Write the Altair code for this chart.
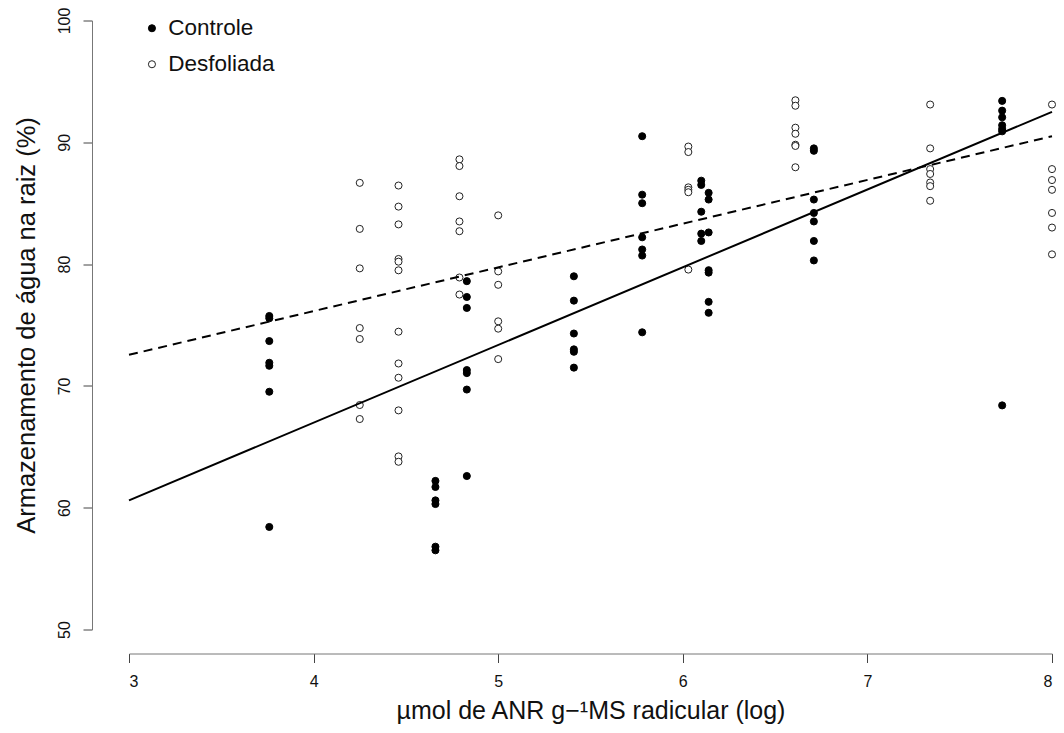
import altair as alt
import pandas as pd

# ---- data ----
groups = ["Controle", "Desfoliada"]

ctrl_x = ([3.76] * 7 + [4.66] * 6 + [4.83] * 7 + [5.41] * 6 + [5.78] * 7
          + [6.10] * 5 + [6.14] * 7 + [6.71] * 7 + [7.73] * 7)
ctrl_y = [75.74, 75.55, 73.68, 71.90, 71.65, 69.52, 58.42,
          62.2, 61.7, 60.6, 60.3, 56.8, 56.5,
          78.6, 77.3, 76.4, 71.3, 71.05, 69.7, 62.6,
          79.0, 77.0, 74.3, 73.0, 72.8, 71.5,
          90.5, 85.7, 85.0, 82.2, 81.2, 80.7, 74.4,
          86.85, 86.5, 84.3, 82.5, 81.9,
          85.85, 85.3, 82.6, 79.5, 79.3, 76.9, 76.0,
          89.5, 89.3, 85.3, 84.2, 83.5, 81.9, 80.3,
          93.4, 92.6, 92.05, 91.4, 91.1, 90.9, 68.4]

desf_x = ([4.25] * 7 + [4.46] * 12 + [4.79] * 7 + [5.00] * 6 + [6.03] * 6
          + [6.61] * 7 + [7.34] * 7 + [8.00] * 7)
desf_y = [86.67, 82.89, 79.65, 74.75, 73.85, 68.43, 67.28,
          86.45, 84.72, 83.26, 80.42, 80.2, 79.49, 74.45, 71.84, 70.67, 67.99, 64.21, 63.77,
          88.6, 88.05, 85.57, 83.5, 82.7, 78.9, 77.5,
          84.0, 79.4, 78.3, 75.3, 74.7, 72.2,
          89.65, 89.2, 86.3, 86.1, 85.9, 79.55,
          93.45, 93.0, 91.2, 90.7, 89.8, 89.7, 87.95,
          93.1, 89.5, 87.8, 87.4, 86.7, 86.4, 85.2,
          93.1, 87.8, 86.9, 86.1, 84.2, 83.0, 80.8]

# fitted lines (end points)
line_x = [3, 8]
ctrl_line_y = [60.6, 92.5]
desf_line_y = [72.55, 90.5]

x_ticks = [3, 4, 5, 6, 7, 8]
y_ticks = [50, 60, 70, 80, 90, 100]

pts = pd.DataFrame({
    "x": ctrl_x + desf_x,
    "y": ctrl_y + desf_y,
    "grupo": [groups[0]] * len(ctrl_x) + [groups[1]] * len(desf_x),
})
ctrl_line = pd.DataFrame({"x": line_x, "y": ctrl_line_y})
desf_line = pd.DataFrame({"x": line_x, "y": desf_line_y})

FONT = "Liberation Sans"
x_scale = alt.Scale(domain=[3, 8], nice=False, zero=False)
y_scale = alt.Scale(domain=[50, 100], nice=False, zero=False)

x_axis = alt.Axis(values=x_ticks, format="d", offset=24, tickSize=9, grid=False,
                  domainColor="#777777", tickColor="#444444", labelColor="#111111",
                  labelFont=FONT, labelFontSize=16, labelPadding=11,
                  titleFont=FONT, titleFontSize=25, titleFontWeight="normal",
                  titleColor="#111111", titlePadding=9)
y_axis = alt.Axis(values=y_ticks, format="d", offset=37, tickSize=9, grid=False,
                  domainColor="#777777", tickColor="#444444", labelColor="#111111",
                  labelFont=FONT, labelFontSize=16, labelAngle=270,
                  labelAlign="center", labelBaseline="alphabetic", labelPadding=14,
                  titleFont=FONT, titleFontSize=25.5, titleFontWeight="normal",
                  titleColor="#111111", titlePadding=17)

legend = alt.Legend(title=None, orient="none", legendX=11.7, legendY=-3.5,
                    symbolType="circle", symbolSize=50, symbolStrokeWidth=1,
                    labelFont=FONT, labelFontSize=22.5, labelColor="#111111",
                    labelOffset=5, rowPadding=13, padding=0)

points = alt.Chart(pts).mark_point(filled=True, shape="circle", size=50,
                                   strokeWidth=1, opacity=1).encode(
    x=alt.X("x:Q", scale=x_scale, axis=x_axis,
            title="µmol de ANR g−¹MS radicular (log)"),
    y=alt.Y("y:Q", scale=y_scale, axis=y_axis,
            title="Armazenamento de água na raiz (%)"),
    fill=alt.Fill("grupo:N", scale=alt.Scale(domain=groups, range=["black", "white"]),
                  legend=legend),
    stroke=alt.Stroke("grupo:N", scale=alt.Scale(domain=groups, range=["black", "#222222"]),
                      legend=legend),
)

solid = alt.Chart(ctrl_line).mark_line(color="black", strokeWidth=2).encode(
    x=alt.X("x:Q", scale=x_scale), y=alt.Y("y:Q", scale=y_scale))
dashed = alt.Chart(desf_line).mark_line(color="black", strokeWidth=2,
                                        strokeDash=[9, 6]).encode(
    x=alt.X("x:Q", scale=x_scale), y=alt.Y("y:Q", scale=y_scale))

chart = alt.layer(points, solid, dashed).properties(
    width=923, height=609,
    autosize=alt.AutoSizeParams(type="none"),
    padding={"left": 121, "top": 12.5, "right": 4, "bottom": 95},
    background="white",
).configure_view(stroke=None)

chart.save("out.html", embed_options={"renderer": "svg", "actions": False})
